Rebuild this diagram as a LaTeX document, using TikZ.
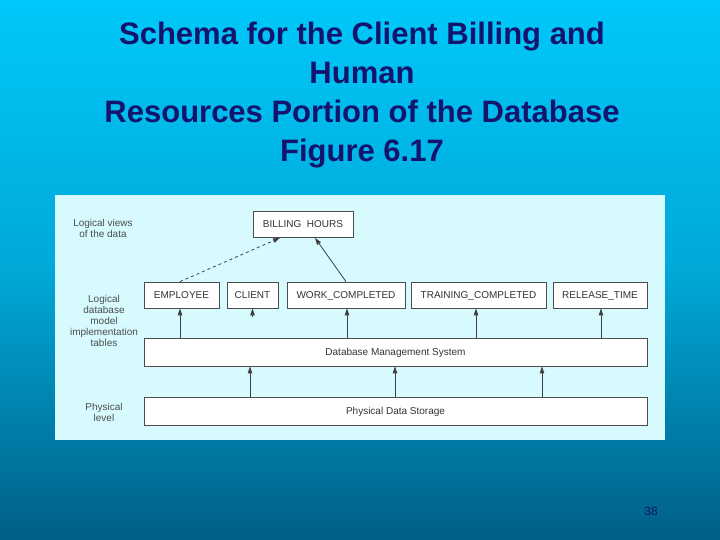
\documentclass[tikz,border=0pt]{standalone}
\usepackage{fontspec}
\setmainfont{Liberation Sans}
\usetikzlibrary{arrows.meta}
\definecolor{titleblue}{RGB}{20,20,110}
\definecolor{panel}{RGB}{215,250,255}
\definecolor{bgtop}{RGB}{0,200,250}
\definecolor{bgbot}{RGB}{0,95,135}
\tikzset{
 tbl/.style={draw=black!70,fill=white,line width=0.7pt,minimum height=26pt,inner sep=0pt,text height=7pt,text depth=0pt,font=\fontsize{10}{11}\selectfont,text=black!80},
 lbl/.style={align=center,font=\fontsize{10}{11}\selectfont,text=black!70},
 arr/.style={-{Triangle[length=7pt,width=4.5pt]},line width=0.8pt,black!75},
}
\begin{document}
\begin{tikzpicture}[x=1pt,y=-1pt]
\shade[top color=bgtop,bottom color=bgbot,middle color=bgtop!70!bgbot] (0,0) rectangle (720,540);
\useasboundingbox (0,0) rectangle (720,540);
\node[text=titleblue,align=center,font=\bfseries\fontsize{31}{39}\selectfont] (title) at (362,95) {Schema for the Client Billing and\\Human\\Resources Portion of the Database\\Figure 6.17};
\node[text=titleblue,font=\fontsize{12}{13}\selectfont] (pg) at (651,511) {38};
\fill[panel] (55,195) rectangle (665,440);
\node[tbl,minimum width=100pt] (bill) at (303,224.5) {BILLING\ \ HOURS};
\node[tbl,minimum width=75pt] (emp) at (181.5,295) {EMPLOYEE};
\node[tbl,minimum width=51pt] (cli) at (252.5,295) {CLIENT};
\node[tbl,minimum width=118pt] (work) at (346,295) {WORK\_COMPLETED};
\node[tbl,minimum width=135pt] (train) at (478.5,295) {TRAINING\_COMPLETED};
\node[tbl,minimum width=94pt] (rel) at (600,295) {RELEASE\_TIME};
\node[tbl,minimum width=503pt,minimum height=28pt] (dbms) at (395.5,352) {Database Management System};
\node[tbl,minimum width=503pt,minimum height=28pt] (pds) at (395.5,411) {Physical Data Storage};
\node[lbl] (l1) at (103,228) {Logical views\\of the data};
\node[lbl] (l2) at (104,321) {Logical\\database\\model\\implementation\\tables};
\node[lbl] (l3) at (104,412) {Physical\\level};
\draw[arr,dashed] (emp.north -| 180,0) -- (bill.south -| 280,0);
\draw[arr] (work.north) -- (bill.south -| 315,0);
\foreach \x/\t in {180/emp,347/work,476/train,601/rel}
  \draw[arr] (dbms.north -| \x,0) -- (\t.south -| \x,0);
\draw[arr] (cli.south |- 0,317) -- (cli.south);
\foreach \x in {250,395,542}
  \draw[arr] (pds.north -| \x,0) -- (dbms.south -| \x,0);
\end{tikzpicture}
\end{document}
